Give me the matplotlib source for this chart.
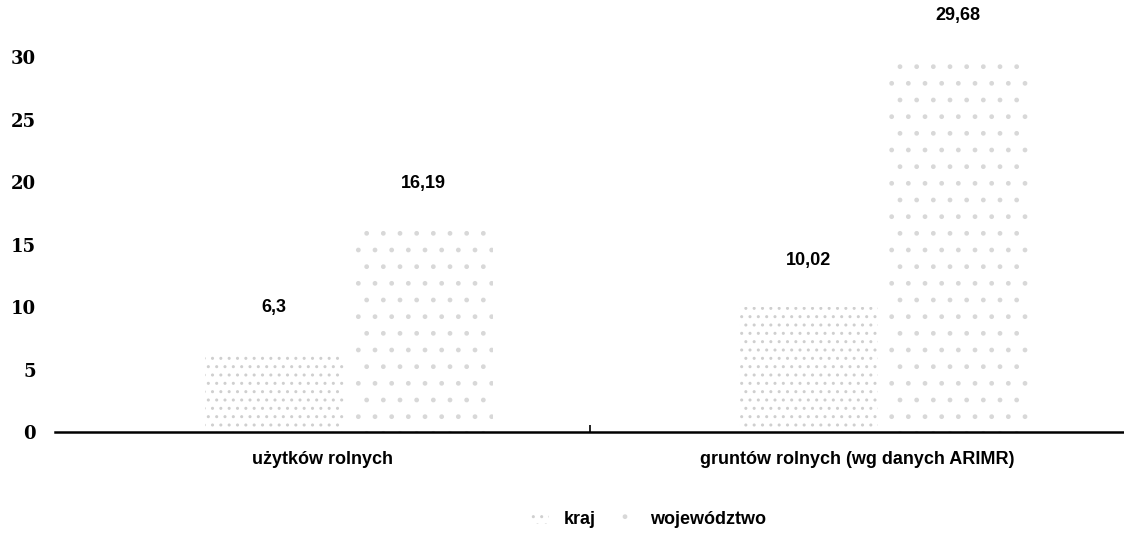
import matplotlib.pyplot as plt
import numpy as np

categories = ["użytków rolnych", "gruntów rolnych (wg danych ARIMR)"]
kraj = [6.3, 10.02]
wojewodztwo = [16.19, 29.68]
kraj_labels = ["6,3", "10,02"]
woj_labels = ["16,19", "29,68"]

plt.rcParams['font.family'] = ['Liberation Sans', 'DejaVu Sans']

fig = plt.figure(figsize=(11.24, 5.40), dpi=100)
ax = fig.add_axes([0.049, 0.2, 0.951, 0.74])

x = np.arange(len(categories))
w = 0.26
b1 = ax.bar(x - 0.09, kraj, w, facecolor='white', edgecolor='#cfcfcf',
            hatch='..', linewidth=0)
b2 = ax.bar(x + 0.19, wojewodztwo, w, facecolor='white', edgecolor='#d8d8d8',
            hatch='.', linewidth=0)

for bars, labels in [(b1, kraj_labels), (b2, woj_labels)]:
  for bar, lab in zip(bars, labels):
    ax.annotate(lab, (bar.get_x() + bar.get_width() / 2, bar.get_height()),
                xytext=(0, 27), textcoords='offset points', ha='center',
                va='bottom', fontsize=13, fontweight='bold', annotation_clip=False)

ax.set_xlim(-0.5, 1.5)
ax.set_ylim(0, 32)
ax.set_yticks([0, 5, 10, 15, 20, 25, 30])
ax.tick_params(axis='y', length=0, labelsize=13, pad=14)
for t in ax.get_yticklabels():
  t.set_fontweight('bold')
  t.set_family('DejaVu Serif')

ax.set_xticks(x)
ax.set_xticklabels(categories, fontsize=13, fontweight='bold')
ax.set_xticks([0.5], minor=True)
ax.tick_params(axis='x', which='major', length=0, pad=14)
ax.tick_params(axis='x', which='minor', length=5, width=1.2, direction='in')

for s in ['top', 'right', 'left']:
  ax.spines[s].set_visible(False)
ax.spines['bottom'].set_linewidth(1.8)

ax.legend([b1, b2], ["kraj", "województwo"], loc='center',
          bbox_to_anchor=(0.555, -0.22), ncol=2, frameon=False,
          prop={'size': 13, 'weight': 'bold'}, handlelength=1.0,
          columnspacing=1.2)

fig.savefig("out.png", dpi=100)
